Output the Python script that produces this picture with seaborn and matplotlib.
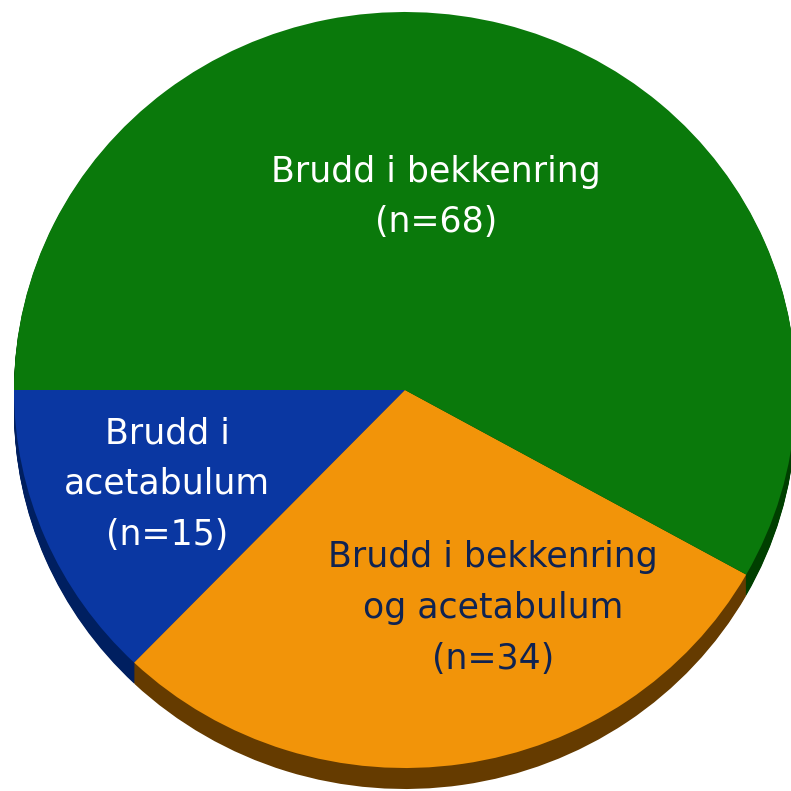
import numpy as np
import matplotlib
matplotlib.use('Agg')
import matplotlib.pyplot as plt
import seaborn as sns

labels = ['Brudd i\nacetabulum\n(n=15)', 'Brudd i bekkenring\nog acetabulum\n(n=34)', 'Brudd i bekkenring\n(n=68)']
counts = [15, 34, 68]
top_colors = ['#0a37a2', '#f29409', '#0a790b']
side_colors = ['#001f60', '#653b00', '#003f00']
text_colors = ['white', '#0f2352', 'white']
label_pos = [(167, 484), (493, 608), (436, 197)]

sns.set_theme(style='white')
plt.rcParams['font.family'] = ['DejaVu Sans']

fig = plt.figure(figsize=(7.91, 7.91), dpi=100)
ax = fig.add_axes([0, 0, 1, 1])

# ellipse geometry in pixels
cx, cy, rx, ry, depth = 405, 390, 391, 378, 21

# extruded side wall: stacked darker pies
for k in range(depth, 0, -1):
    ax.pie(counts, colors=side_colors, startangle=180, counterclock=True,
           center=(0, -k / ry), radius=1, wedgeprops=dict(linewidth=0))
ax.pie(counts, colors=top_colors, startangle=180, counterclock=True,
       center=(0, 0), radius=1, wedgeprops=dict(linewidth=0))

ax.set_aspect('auto')
ax.set_xlim(-cx / rx, (791 - cx) / rx)
ax.set_ylim(-(791 - cy) / ry, cy / ry)
ax.axis('off')

for lab, (px, py), tc in zip(labels, label_pos, text_colors):
    ax.text((px - cx) / rx, (cy - py) / ry, lab, ha='center', va='center',
            color=tc, fontsize=25, linespacing=1.62)

fig.savefig('out.png', dpi=100, facecolor='white')
